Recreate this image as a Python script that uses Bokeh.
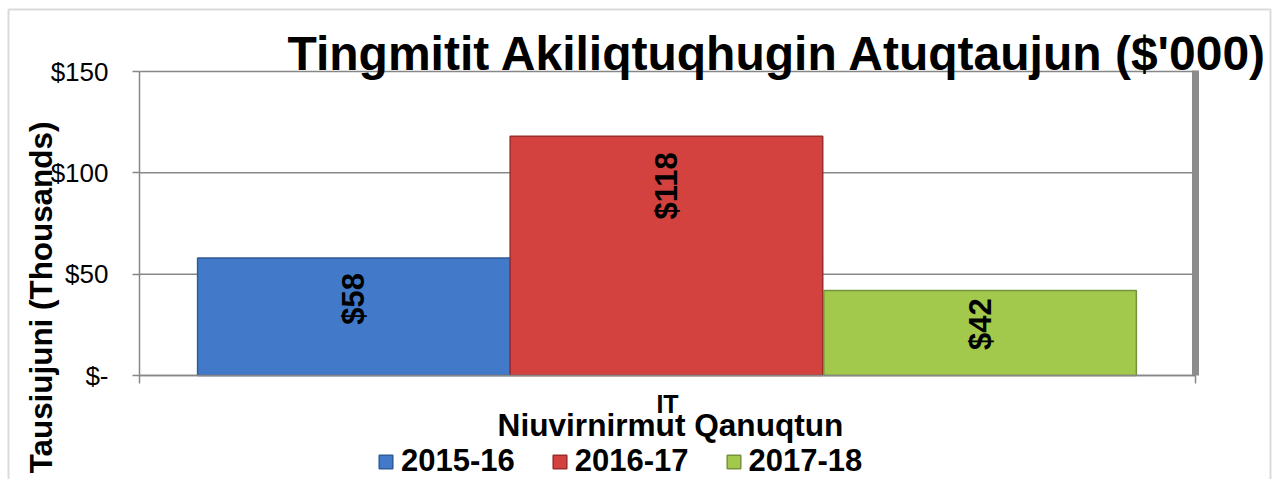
from math import pi
from bokeh.plotting import figure
from bokeh.models import (ColumnDataSource, Range1d, FixedTicker, Legend, LegendItem, Label,
                          LinearAxis, BoxAnnotation)
from bokeh.transform import dodge
from bokeh.core.properties import value
from bokeh.embed import file_html
from bokeh.resources import INLINE

# ---- data ----
categories = ["IT"]
years = ["2015-16", "2016-17", "2017-18"]
values = [58, 118, 42]
value_labels = ["$58", "$118", "$42"]
y_ticks = [0, 50, 100, 150]
y_tick_labels = ["$-", "$50", "$100", "$150"]

title_text = "Tingmitit Akiliqtuqhugin Atuqtaujun ($'000)"
x_title = "Niuvirnirmut Qanuqtun"
y_title = "Tausiujuni (Thousands)"

# ---- layout / styles ----
W, H = 1277, 479
PX_LEFT, PX_RIGHT, PX_TOP, PX_BOTTOM = 139, 1195, 71, 375   # plot-area edges on the canvas
FONT = "Liberation Sans"
fills = ["#4279c8", "#d4423f", "#a2c84c"]
lines = ["#2f5b97", "#9b2d2b", "#76923c"]
offsets = [-0.297, -0.001, 0.296]
bar_width = 0.296
label_offsets = [15, 16, 8]
GRID = "#878787"

n_cat = len(categories)
ymax = max(y_ticks)
kx = (PX_RIGHT - PX_LEFT) / n_cat
ky = (PX_BOTTOM - PX_TOP) / ymax
x_range = Range1d(-PX_LEFT / kx, (W - PX_LEFT) / kx)
y_range = Range1d(-(H - PX_BOTTOM) / ky, ymax + PX_TOP / ky)

p = figure(width=W, height=H, output_backend="svg", toolbar_location=None,
           x_range=x_range, y_range=y_range, x_axis_type=None, y_axis_type=None,
           min_border=0, min_border_left=0, min_border_right=0, min_border_top=0,
           min_border_bottom=0)
p.background_fill_color = "white"
p.border_fill_color = "white"
p.outline_line_color = None

cat_pos = [i + 0.5 for i in range(n_cat)]

# horizontal gridlines across the plot area
grid_src = ColumnDataSource(dict(y=y_ticks, x0=[0] * len(y_ticks), x1=[n_cat] * len(y_ticks)))
p.segment(x0="x0", x1="x1", y0="y", y1="y", source=grid_src, line_color=GRID, line_width=1.5)

# bars + data labels
items = []
for i, yr in enumerate(years):
    src = ColumnDataSource(dict(x=cat_pos, value=[values[i]], label=[value_labels[i]]))
    r = p.vbar(x=dodge("x", offsets[i]), top="value", width=bar_width, source=src,
               fill_color=fills[i], line_color=lines[i], line_width=1.5)
    p.text(x=dodge("x", offsets[i]), y="value", text="label", source=src,
           angle=pi / 2, text_align="right", text_baseline="middle", y_offset=label_offsets[i],
           text_font=value(FONT), text_font_size="31px", text_font_style="bold", text_color="black")
    items.append(LegendItem(label=yr, renderers=[r]))

# right wall of the plot area
p.segment(x0=[n_cat], x1=[n_cat], y0=[0], y1=[ymax + 0.5], line_color="#8c8c8c", line_width=7)

# y axis
yaxis = LinearAxis(fixed_location=0, bounds=(0, ymax), ticker=FixedTicker(ticks=y_ticks),
                   major_label_overrides={t: l for t, l in zip(y_ticks, y_tick_labels)},
                   major_label_text_font=FONT, major_label_text_font_size="26px",
                   major_label_text_color="black", major_tick_out=7, major_tick_in=0,
                   minor_tick_line_color=None, major_tick_line_color=GRID,
                   major_tick_line_width=1.5, axis_line_color=GRID, axis_line_width=1.5,
                   major_label_standoff=24)
p.add_layout(yaxis, "left")

# x axis (category axis)
xaxis = LinearAxis(fixed_location=0, bounds=(0, n_cat),
                   ticker=FixedTicker(ticks=cat_pos, minor_ticks=list(range(n_cat + 1))),
                   major_label_overrides={c: lab for c, lab in zip(cat_pos, categories)},
                   major_label_text_font=FONT, major_label_text_font_size="25px",
                   major_label_text_font_style="bold", major_label_text_color="black",
                   major_tick_line_color=None, major_tick_out=0, major_tick_in=0,
                   minor_tick_line_color=GRID, minor_tick_line_width=1.5, minor_tick_out=8,
                   minor_tick_in=0, major_label_standoff=6,
                   axis_line_color=GRID, axis_line_width=1.5)
p.add_layout(xaxis, "below")

# texts
p.add_layout(Label(x=287, y=H - 70 + 17, x_units="screen", y_units="screen", text=title_text,
                   text_align="left", text_baseline="alphabetic", text_font=FONT,
                   text_font_size="48px", text_font_style="bold", text_color="black"))
p.add_layout(Label(x=670, y=H - 435 + 11, x_units="screen", y_units="screen", text=x_title,
                   text_align="center", text_baseline="alphabetic", text_font=FONT,
                   text_font_size="31.6px", text_font_style="bold", text_color="black"))
p.add_layout(Label(x=52 - 11, y=H - 297, x_units="screen", y_units="screen", text=y_title,
                   angle=pi / 2, text_align="center", text_baseline="alphabetic", text_font=FONT,
                   text_font_size="31.4px", text_font_style="bold", text_color="black"))

legend = Legend(items=items, orientation="horizontal", location=(377, 0),
                label_text_font=FONT, label_text_font_size="31px", label_text_font_style="bold",
                label_text_color="black", glyph_width=17, glyph_height=17, label_standoff=7,
                spacing=36, padding=0, margin=0, border_line_color=None,
                background_fill_alpha=0)
p.add_layout(legend)

# outer chart border
p.add_layout(BoxAnnotation(left=8, right=1270, top=H - 9, bottom=-20,
                           left_units="screen", right_units="screen", top_units="screen",
                           bottom_units="screen", fill_alpha=0, line_color=GRID, line_width=2))

open("out.html", "w").write(file_html(p, INLINE))
